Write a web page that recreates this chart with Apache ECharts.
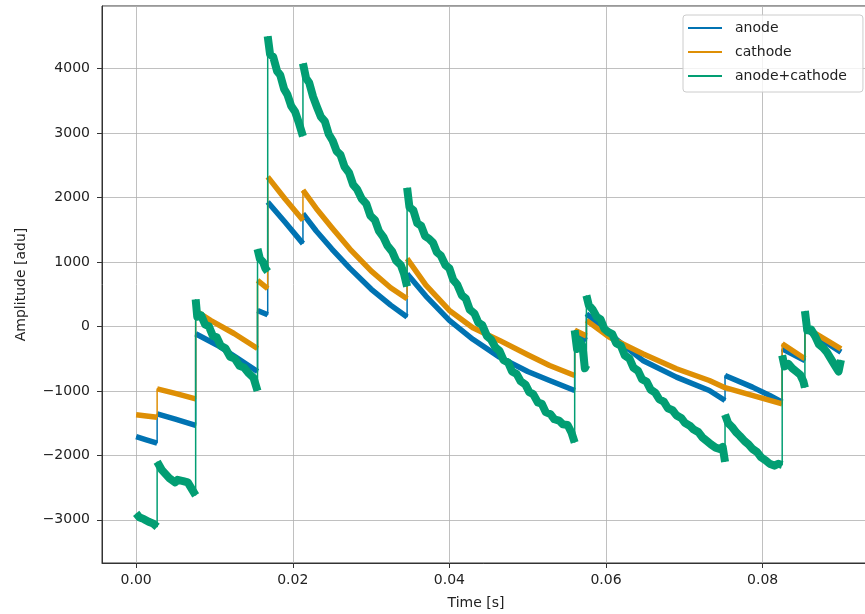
<!DOCTYPE html>
<html>
<head>
<meta charset="utf-8">
<script src="https://cdn.jsdelivr.net/npm/echarts@6/dist/echarts.min.js"></script>
<style>html,body{margin:0;padding:0;background:#fff;overflow:hidden}#c{width:865px;height:614px}</style>
</head>
<body>
<div id="c"></div>
<script>
// Series names
const seriesNames = ['anode', 'cathode', 'anode+cathode'];
// X tick values (s) and Y tick values (adu)
const xTicks = [0.00, 0.02, 0.04, 0.06, 0.08];
const yTicks = [-3000, -2000, -1000, 0, 1000, 2000, 3000, 4000];

// [time (s), amplitude (adu)] ; consecutive points with equal time = a jump
const anode = [
  [0, -1710], [0.0013, -1760], [0.00268, -1810],
  [0.00268, -1356], [0.0050, -1440], [0.0076, -1537],
  [0.0076, -114], [0.0105, -300], [0.0130, -500], [0.0155, -700],
  [0.0155, 248], [0.0168, 180],
  [0.0168, 1930], [0.0190, 1620], [0.0213, 1284],
  [0.0213, 1750], [0.0230, 1480], [0.0250, 1200], [0.0273, 900], [0.0300, 580], [0.0325, 330], [0.0346, 145],
  [0.0346, 818], [0.0370, 470], [0.0400, 93], [0.0430, -200], [0.0464, -476], [0.0500, -700], [0.0528, -839], [0.0560, -994],
  [0.0560, -114], [0.0575, -217],
  [0.0575, 197], [0.0604, -114], [0.0647, -528], [0.0690, -787], [0.0732, -994], [0.0752, -1149],
  [0.0752, -761], [0.0787, -942], [0.0809, -1071], [0.0825, -1175],
  [0.0825, -347], [0.0854, -528],
  [0.0854, -36], [0.0900, -399]
];
const cathode = [
  [0, -1372], [0.0013, -1390], [0.00268, -1408],
  [0.00268, -968], [0.0050, -1040], [0.0076, -1123],
  [0.0076, 240], [0.0095, 93], [0.0125, -110], [0.0155, -342],
  [0.0155, 714], [0.0168, 585],
  [0.0168, 2319], [0.0190, 1980], [0.0213, 1646],
  [0.0213, 2112], [0.0230, 1830], [0.0250, 1530], [0.0273, 1200], [0.0300, 860], [0.0325, 600], [0.0346, 430],
  [0.0346, 1051], [0.0370, 640], [0.0400, 248], [0.0430, -20], [0.0464, -217], [0.0500, -440], [0.0528, -606], [0.0560, -761],
  [0.0560, -60], [0.0575, -150],
  [0.0575, 93], [0.0604, -166], [0.0647, -424], [0.0690, -657], [0.0732, -839], [0.0752, -950],
  [0.0825, -1201],
  [0.0825, -269], [0.0854, -502],
  [0.0854, -10], [0.0900, -347]
];
const anodeCathode = [
  [0, -2900], [0.0004, -2960], [0.0010, -2990], [0.0016, -3030], [0.0022, -3060], [0.00268, -3110],
  [0.00268, -2100], [0.0033, -2230], [0.0042, -2350], [0.0050, -2420], [0.0053, -2380], [0.0060, -2400], [0.0066, -2420], [0.0070, -2500], [0.0076, -2620],
  [0.0076, 420], [0.0078, 150], [0.0083, 170], [0.0088, 30], [0.0093, 0], [0.0098, -150], [0.0103, -170], [0.0108, -300], [0.0114, -340], [0.0120, -470], [0.0126, -500], [0.0132, -610], [0.0138, -640], [0.0144, -730], [0.0150, -800], [0.0155, -1000],
  [0.0155, 1200], [0.0158, 1050], [0.0162, 1000], [0.0165, 900], [0.0168, 850],
  [0.0168, 4500], [0.0171, 4220], [0.0175, 4180], [0.0180, 3960], [0.0184, 3900], [0.0189, 3680], [0.0193, 3600], [0.0198, 3420], [0.0203, 3330], [0.0208, 3150], [0.0213, 2950],
  [0.0213, 4080], [0.0217, 3850], [0.0221, 3780], [0.0226, 3560], [0.0231, 3400], [0.0236, 3250], [0.0241, 3180], [0.0246, 2980], [0.0251, 2880], [0.0256, 2720], [0.0261, 2660], [0.0266, 2480], [0.0272, 2380], [0.0277, 2200], [0.0282, 2130], [0.0288, 1980], [0.0294, 1900], [0.0299, 1720], [0.0305, 1650], [0.0310, 1480], [0.0316, 1380], [0.0321, 1250], [0.0327, 1160], [0.0332, 1020], [0.0338, 950], [0.0342, 820], [0.0346, 620],
  [0.0346, 2150], [0.0349, 1850], [0.0354, 1800], [0.0359, 1600], [0.0364, 1560], [0.0369, 1400], [0.0374, 1360], [0.0379, 1300], [0.0384, 1150], [0.0389, 1100], [0.0395, 950], [0.0400, 900], [0.0405, 720], [0.0410, 650], [0.0416, 480], [0.0421, 430], [0.0426, 260], [0.0432, 200], [0.0437, 60], [0.0442, 20], [0.0448, -150], [0.0453, -200], [0.0459, -330], [0.0464, -380], [0.0469, -520], [0.0475, -560], [0.0480, -700], [0.0486, -740], [0.0491, -850], [0.0497, -900], [0.0502, -1020], [0.0507, -1050], [0.0513, -1180], [0.0518, -1200], [0.0523, -1330], [0.0529, -1360], [0.0534, -1440], [0.0540, -1460], [0.0545, -1520], [0.0551, -1530], [0.0556, -1650], [0.0560, -1800],
  [0.0560, -60], [0.0563, -350], [0.0566, -220], [0.0570, -300], [0.0573, -650], [0.0575, -600],
  [0.0575, 480], [0.0578, 330], [0.0583, 260], [0.0588, 150], [0.0593, 110], [0.0598, -40], [0.0603, -90], [0.0608, -120], [0.0613, -260], [0.0619, -300], [0.0624, -450], [0.0630, -500], [0.0635, -640], [0.0641, -690], [0.0646, -820], [0.0652, -860], [0.0657, -980], [0.0663, -1030], [0.0668, -1130], [0.0674, -1170], [0.0679, -1270], [0.0685, -1300], [0.0690, -1380], [0.0696, -1420], [0.0701, -1500], [0.0707, -1540], [0.0712, -1600], [0.0718, -1640], [0.0723, -1720], [0.0729, -1780], [0.0734, -1830], [0.0740, -1880], [0.0745, -1900], [0.0749, -1870], [0.0752, -2100],
  [0.0752, -1370], [0.0756, -1500], [0.0761, -1560], [0.0766, -1640], [0.0771, -1700], [0.0777, -1780], [0.0782, -1830], [0.0787, -1900], [0.0793, -1950], [0.0798, -2030], [0.0804, -2080], [0.0809, -2130], [0.0815, -2160], [0.0820, -2130], [0.0825, -2150],
  [0.0825, -450], [0.0828, -620], [0.0833, -580], [0.0838, -650], [0.0843, -700], [0.0848, -750], [0.0852, -850], [0.0854, -950],
  [0.0854, 240], [0.0857, -60], [0.0862, -50], [0.0867, -150], [0.0872, -280], [0.0877, -330], [0.0882, -400], [0.0887, -500], [0.0893, -620], [0.0897, -700], [0.0900, -520]
];

const colors = ['#0173b2', '#de8f05', '#029e73'];
const bandWidths = [5.5, 5.5, 8];
const datasets = [anode, cathode, anodeCathode];

function breakAtJumps(pts) {
  const out = [];
  pts.forEach((p, i) => {
    if (i > 0 && p[0] === pts[i - 1][0]) out.push([p[0], '-']);
    out.push(p);
  });
  return out;
}

const series = [];
datasets.forEach((d, i) => {
  series.push({
    name: seriesNames[i], type: 'line', data: breakAtJumps(d), showSymbol: false,
    connectNulls: false, color: colors[i], z: 2 + i * 2,
    lineStyle: { width: bandWidths[i], color: colors[i], join: 'round', cap: 'butt' }
  });
  series.push({
    name: seriesNames[i], type: 'line', data: d, showSymbol: false,
    color: colors[i], z: 3 + i * 2,
    lineStyle: { width: 1.5, color: colors[i] }
  });
});

const font = 'DejaVu Sans';
const txt = '#222';
const chart = echarts.init(document.getElementById('c'), null, { renderer: 'canvas' });
chart.setOption({
  animation: false,
  backgroundColor: '#fff',
  textStyle: { fontFamily: font },
  grid: { left: 102, top: 6, width: 782, bottom: 51, outerBoundsMode: 'none', containLabel: false,
          show: true, borderColor: '#333', borderWidth: 1, backgroundColor: 'transparent' },
  legend: {
    data: seriesNames, orient: 'vertical', left: 683, top: 15,
    icon: 'rect', itemWidth: 34, itemHeight: 2, itemGap: 8,
    padding: [5, 16, 8, 5],
    backgroundColor: 'rgba(255,255,255,0.8)', borderColor: '#cccccc', borderWidth: 1, borderRadius: 3,
    textStyle: { fontFamily: font, fontSize: 14, color: txt, lineHeight: 16, padding: [0, 0, 0, 8] }
  },
  xAxis: {
    type: 'value', min: -0.00436, max: 0.0955, splitNumber: 5,
    name: 'Time [s]', nameLocation: 'middle', nameGap: 33,
    nameTextStyle: { fontFamily: font, fontSize: 14, color: txt, padding: [0, 34, 0, 0] },
    axisLine: { show: true, onZero: false, lineStyle: { color: '#333', width: 1 } },
    axisTick: { show: true, length: 5, lineStyle: { color: '#333' } },
    axisLabel: {
      fontFamily: font, fontSize: 14, color: txt, margin: 10, showMinLabel: false, showMaxLabel: false,
      formatter: v => xTicks.some(t => Math.abs(t - v) < 1e-9) ? v.toFixed(2) : ''
    },
    splitLine: { show: true, lineStyle: { color: '#b0b0b0', width: 0.8 } }
  },
  yAxis: {
    type: 'value', min: -3670, max: 4970, splitNumber: 8,
    name: 'Amplitude [adu]', nameLocation: 'middle', nameGap: 74, nameRotate: 90,
    nameTextStyle: { fontFamily: font, fontSize: 14, color: txt },
    axisLine: { show: true, onZero: false, lineStyle: { color: '#333', width: 1 } },
    axisTick: { show: true, length: 5, lineStyle: { color: '#333' } },
    axisLabel: {
      fontFamily: font, fontSize: 14, color: txt, margin: 12, showMinLabel: false, showMaxLabel: false,
      formatter: v => yTicks.includes(v) ? (v < 0 ? '\u2212' + Math.abs(v) : String(v)) : ''
    },
    splitLine: { show: true, lineStyle: { color: '#b0b0b0', width: 0.8 } }
  },
  series: series
});
</script>
</body>
</html>
